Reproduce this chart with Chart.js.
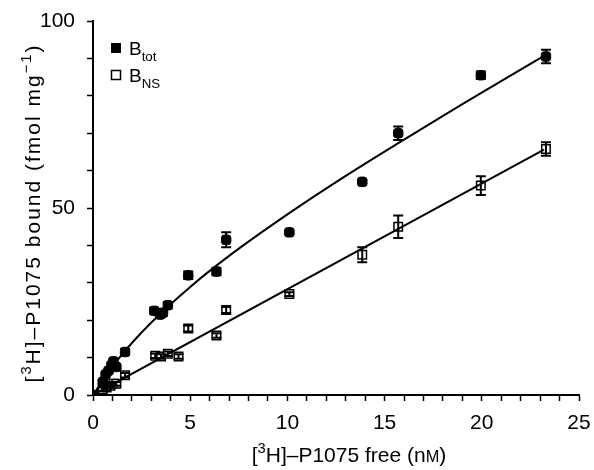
<!DOCTYPE html>
<html>
<head>
<meta charset="utf-8">
<script src="https://cdn.jsdelivr.net/npm/chart.js@4"></script>
<style>
html,body{margin:0;padding:0;background:#fff;}
#wrap{width:594px;height:470px;}
</style>
</head>
<body>
<div id="wrap"><canvas id="c" width="594" height="470"></canvas></div>
<script>
// ---- data ----
const totX   = [0, 0.5, 0.65, 0.8, 0.95, 1.05, 1.2, 1.65, 3.15, 3.45, 3.6, 3.85, 4.9, 6.35, 6.85, 10.1, 13.85, 15.7, 19.95, 23.3];
const totY   = [0, 3.5, 5.5, 6.5, 8, 9, 7.5, 11.5, 22.5, 21.5, 22, 24, 32, 33, 41.5, 43.5, 57, 70, 85.5, 90.5];
const totErr = [0, 0.5, 0.5, 0.5, 0.5, 0.5, 0.5, 0.8, 0.8, 0.8, 0.8, 0.8, 1, 1, 2, 0.5, 0.5, 1.8, 1, 1.8];

const nsX   = [0, 0.5, 0.7, 0.9, 1.05, 1.2, 1.65, 3.2, 3.5, 3.85, 4.4, 4.9, 6.35, 6.85, 10.1, 13.85, 15.7, 19.95, 23.3];
const nsY   = [0, 1.5, 2, 2.5, 3, 3, 5.3, 10.5, 10.3, 11, 10.3, 17.8, 15.9, 22.7, 27, 37.5, 45, 56, 65.8];
const nsErr = [0, 0.5, 0.5, 0.5, 0.5, 0.5, 0.6, 0.6, 0.6, 0.6, 0.6, 0.8, 0.6, 0.8, 0.5, 2, 3, 2.5, 1.8];

// fitted curves, read at points along the drawn lines
const totCurveX = [0, 1, 2, 3, 5, 7, 10, 13, 16, 19, 23.2];
const totCurveY = [0, 7.6, 13.9, 19.4, 28.9, 37.2, 48.3, 58.6, 68.3, 77.8, 90.7];
const nsLineX = [0, 23.2];
const nsLineY = [0, 65.6];

const xLabelValues = [0, 5, 10, 15, 20, 25];
const yLabelValues = [0, 50, 100];

// ---- helpers ----
const FONT = '"Liberation Sans", Arial, Helvetica, sans-serif';
const FS = 21;
const LFS = 19;
const pts = (xs, ys) => xs.map((x, i) => ({x: x, y: ys[i]}));

function richWidth(ctx, segs, fs) {
  let w = 0;
  for (const s of segs) {
    const size = s.k === 'n' ? fs : (s.k === 'sc' ? fs * 0.78 : fs * 0.7);
    ctx.font = size + 'px ' + FONT;
    w += ctx.measureText(s.t).width;
  }
  return w;
}
function drawRich(ctx, segs, x, y, fs, align) {
  let cx = align === 'center' ? x - richWidth(ctx, segs, fs) / 2 : x;
  ctx.textBaseline = 'alphabetic';
  ctx.textAlign = 'left';
  ctx.fillStyle = '#000';
  for (const s of segs) {
    let size = fs, dy = 0;
    if (s.k === 'sup') { size = fs * 0.7; dy = -fs * 0.42; }
    else if (s.k === 'sub') { size = fs * 0.7; dy = fs * 0.3; }
    else if (s.k === 'sc') { size = fs * 0.78; }
    ctx.font = size + 'px ' + FONT;
    ctx.fillText(s.t, cx, y + dy);
    cx += ctx.measureText(s.t).width;
  }
}

const errorBars = {
  id: 'errorBars',
  afterDatasetsDraw(chart) {
    const ctx = chart.ctx, xs = chart.scales.x, ys = chart.scales.y;
    ctx.save();
    ctx.strokeStyle = '#000';
    ctx.lineWidth = 2;
    chart.data.datasets.forEach(ds => {
      if (!ds.errors) return;
      ds.data.forEach((p, i) => {
        const e = ds.errors[i];
        if (!e) return;
        const px = xs.getPixelForValue(p.x);
        const y1 = ys.getPixelForValue(p.y + e);
        const y2 = ys.getPixelForValue(p.y - e);
        if (y2 - y1 < 3) return;
        ctx.beginPath();
        ctx.moveTo(px, y1); ctx.lineTo(px, y2);
        ctx.moveTo(px - 5, y1); ctx.lineTo(px + 5, y1);
        ctx.moveTo(px - 5, y2); ctx.lineTo(px + 5, y2);
        ctx.stroke();
      });
    });
    ctx.restore();
  }
};

const annotations = {
  id: 'annotations',
  afterDraw(chart) {
    const ctx = chart.ctx, a = chart.chartArea;
    ctx.save();
    // y title
    ctx.save();
    ctx.translate(32, (a.top + a.bottom) / 2 + 5);
    ctx.rotate(-Math.PI / 2);
    ctx.letterSpacing = '2px';
    drawRich(ctx, [
      {t: '[', k: 'n'}, {t: '3', k: 'sup'}, {t: 'H]–P1075 bound (fmol mg', k: 'n'},
      {t: '−1', k: 'sup'}, {t: ')', k: 'n'}
    ], 0, 7.5, FS, 'center');
    ctx.letterSpacing = '0px';
    ctx.restore();
    // x title
    drawRich(ctx, [
      {t: '[', k: 'n'}, {t: '3', k: 'sup'}, {t: 'H]–P1075 free (n', k: 'n'},
      {t: 'M', k: 'sc'}, {t: ')', k: 'n'}
    ], (a.left + a.right) / 2 + 13, 462, FS, 'center');
    // legend
    const lx = a.left + 23, ly1 = a.top + 27, ly2 = a.top + 54;
    ctx.fillStyle = '#000';
    ctx.fillRect(lx - 5, ly1 - 5, 10, 10);
    ctx.strokeStyle = '#000';
    ctx.lineWidth = 1.5;
    ctx.fillStyle = '#fff';
    ctx.fillRect(lx - 4.5, ly2 - 4.5, 9, 9);
    ctx.strokeRect(lx - 4.5, ly2 - 4.5, 9, 9);
    drawRich(ctx, [{t: 'B', k: 'n'}, {t: 'tot', k: 'sub'}], lx + 13, ly1 + 7, LFS, 'left');
    drawRich(ctx, [{t: 'B', k: 'n'}, {t: 'NS', k: 'sub'}], lx + 13, ly2 + 7, LFS, 'left');
    ctx.restore();
  }
};

new Chart(document.getElementById('c'), {
  type: 'scatter',
  data: {
    datasets: [
      {
        type: 'line', data: pts(totCurveX, totCurveY), borderColor: '#000', borderWidth: 2,
        pointRadius: 0, cubicInterpolationMode: 'monotone', fill: false
      },
      {
        type: 'line', data: pts(nsLineX, nsLineY), borderColor: '#000', borderWidth: 2,
        pointRadius: 0, fill: false
      },
      {
        label: 'Btot', data: pts(totX, totY), errors: totErr, showLine: false,
        pointStyle: 'rectRounded', pointRadius: 5.5, backgroundColor: '#000', borderColor: '#000', borderWidth: 1
      },
      {
        label: 'BNS', data: pts(nsX, nsY), errors: nsErr, showLine: false,
        pointStyle: 'rect', pointRadius: 6, backgroundColor: '#fff', borderColor: '#000', borderWidth: 1.5
      }
    ]
  },
  options: {
    responsive: false,
    animation: false,
    layout: {padding: {left: 0, right: 0, top: 21, bottom: 0}},
    plugins: {legend: {display: false}, tooltip: {enabled: false}},
    scales: {
      x: {
        type: 'linear', min: 0, max: 25,
        afterFit(s) { s.height = 75; s.paddingRight = 15; s.paddingLeft = 0; },
        border: {display: true, color: '#000', width: 2},
        grid: {drawOnChartArea: false, drawTicks: true, tickLength: 6, tickColor: '#000', tickWidth: 1.5},
        ticks: {
          stepSize: 1, autoSkip: false, maxRotation: 0, color: '#000', padding: 10,
          font: {family: FONT, size: FS},
          callback: v => xLabelValues.includes(v) ? String(v) : ''
        }
      },
      y: {
        type: 'linear', min: 0, max: 100,
        afterFit(s) { s.width = 93; s.paddingTop = 0; s.paddingBottom = 0; },
        border: {display: true, color: '#000', width: 2},
        grid: {drawOnChartArea: false, drawTicks: true, tickLength: 6, tickColor: '#000', tickWidth: 1.5},
        ticks: {
          stepSize: 10, autoSkip: false, color: '#000', padding: 12,
          font: {family: FONT, size: FS},
          callback: v => yLabelValues.includes(v) ? String(v) : ''
        }
      }
    }
  },
  plugins: [errorBars, annotations]
});
</script>
</body>
</html>
